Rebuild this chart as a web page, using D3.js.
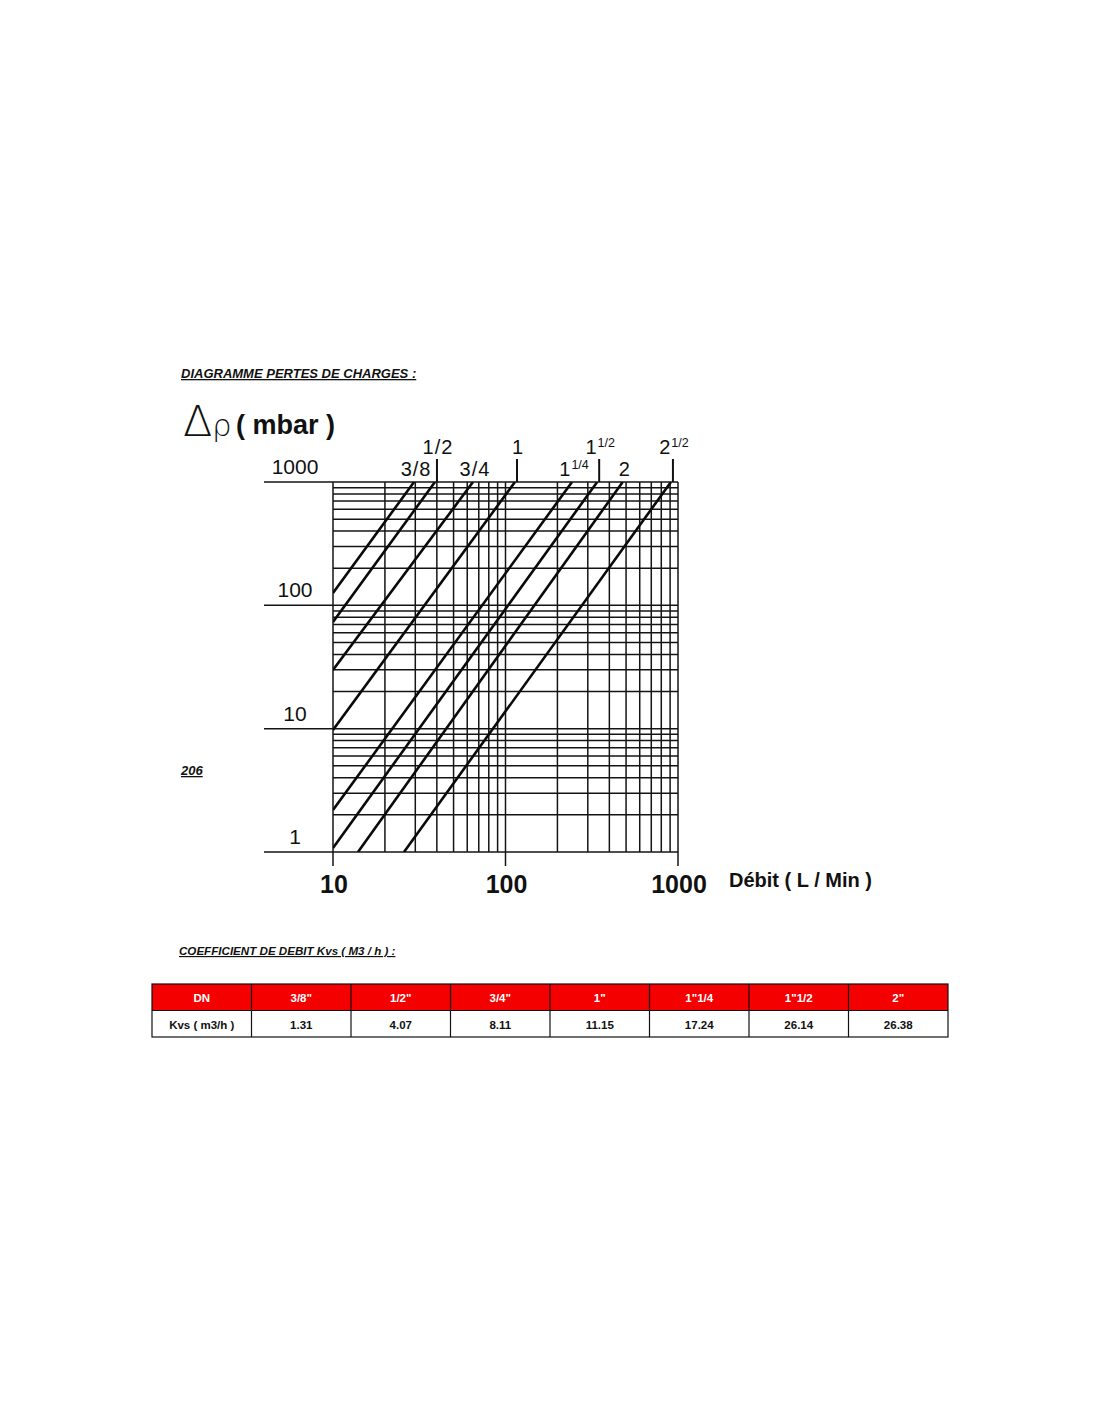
<!DOCTYPE html>
<html>
<head>
<meta charset="utf-8">
<script src="https://cdn.jsdelivr.net/npm/d3@7"></script>
<style>
  html, body { margin: 0; padding: 0; background: #fff; }
  svg { display: block; }
</style>
</head>
<body>
<svg id="chart" width="1100" height="1422"></svg>
<script>
// ---------------- data ----------------
const sizeLabels = ["3/8", "1/2", "3/4", "1", "1 1/4", "1 1/2", "2", "2 1/2"];
// each line is straight on log-log paper: start point and end point
const startFlow = [10, 10, 10, 10, 10, 10, 13.96, 25.8];      // L/min
const startDp   = [126, 73.3, 29.9, 9.76, 2.19, 1.08, 1, 1];   // mbar
const endFlow   = [29.5, 39.0, 64.8, 113.5, 243, 340, 478, 910];
const endDp     = [1000, 1000, 1000, 1000, 1000, 1000, 1000, 1000];

const xMajorTicks = [10, 100, 1000];
const yMajorTicks = [1, 10, 100, 1000];

const tableHeader = ["DN", "3/8\"", "1/2\"", "3/4\"", "1\"", "1\"1/4", "1\"1/2", "2\""];
const tableKvs    = ["Kvs ( m3/h )", "1.31", "4.07", "8.11", "11.15", "17.24", "26.14", "26.38"];

// ---------------- layout ----------------
const FONT = "'Liberation Sans', Arial, Helvetica, sans-serif";
const svg = d3.select("#chart");

const x = d3.scaleLog().domain([10, 1000]).range([333, 678]);
const y = d3.scaleLog().domain([1, 1000]).range([852, 482]);

// titles
function uline(t, xx, yy, size) {
  return svg.append("text").attr("x", xx).attr("y", yy)
    .attr("font-family", FONT).attr("font-size", size)
    .attr("font-weight", "bold").attr("font-style", "italic")
    .attr("text-decoration", "underline").attr("fill", "#111").text(t);
}
uline("DIAGRAMME PERTES DE CHARGES :", 181, 378, 13);
uline("206", 181, 775, 13);
uline("COEFFICIENT DE DEBIT Kvs ( M3 / h ) :", 179, 955, 11.6);

// y axis title
svg.append("text").attr("x", 183).attr("y", 436)
  .attr("font-family", "'DejaVu Sans', sans-serif").attr("font-size", 43)
  .attr("font-weight", 200).attr("fill", "#111").text("Δ");
svg.append("text").attr("x", 212).attr("y", 436)
  .attr("font-family", "'DejaVu Sans', sans-serif").attr("font-size", 31)
  .attr("font-weight", 200).attr("fill", "#111").text("ρ");
svg.append("text").attr("x", 236).attr("y", 434)
  .attr("font-family", FONT).attr("font-size", 27).attr("font-weight", "bold")
  .attr("fill", "#111").text("( mbar )");

// grid
const g = svg.append("g").attr("stroke", "#141414").attr("stroke-width", 1.5);
const xTicks = x.ticks();
const yTicks = y.ticks();

g.selectAll("line.v").data(xTicks).join("line").attr("class", "v")
  .attr("x1", d => x(d)).attr("x2", d => x(d))
  .attr("y1", y(1000))
  .attr("y2", d => xMajorTicks.includes(d) ? y(1) + 14 : y(1));

g.selectAll("line.h").data(yTicks).join("line").attr("class", "h")
  .attr("y1", d => y(d)).attr("y2", d => y(d))
  .attr("x1", d => yMajorTicks.includes(d) ? 264 : x(10))
  .attr("x2", x(1000));

// y labels
svg.selectAll("text.ylab").data(yMajorTicks).join("text").attr("class", "ylab")
  .attr("x", 295).attr("y", d => y(d) - 8)
  .attr("text-anchor", "middle").attr("font-family", FONT)
  .attr("font-size", 21).attr("fill", "#111").text(d => d);

// x labels
svg.selectAll("text.xlab").data(xMajorTicks).join("text").attr("class", "xlab")
  .attr("x", d => x(d) + 1).attr("y", 893)
  .attr("text-anchor", "middle").attr("font-family", FONT)
  .attr("font-size", 25).attr("font-weight", "bold").attr("fill", "#111").text(d => d);

svg.append("text").attr("x", 729).attr("y", 887)
  .attr("font-family", FONT).attr("font-size", 20).attr("font-weight", "bold")
  .attr("fill", "#111").text("Débit ( L / Min )");

// clip
svg.append("clipPath").attr("id", "plotclip").append("rect")
  .attr("x", x(10)).attr("y", y(1000)).attr("width", x(1000) - x(10)).attr("height", y(1) - y(1000));

// curves
const curves = sizeLabels.map((s, i) => ({
  label: s,
  pts: [[startFlow[i], startDp[i]], [endFlow[i], endDp[i]]]
}));
const lineGen = d3.line().x(d => x(d[0])).y(d => y(d[1]));
svg.append("g").attr("clip-path", "url(#plotclip)")
  .selectAll("path").data(curves).join("path")
  .attr("d", d => lineGen(d.pts))
  .attr("fill", "none").attr("stroke", "#0a0a0a").attr("stroke-width", 2.6);

// curve labels
curves.forEach((c, i) => {
  const top = c.pts[1];
  const cx = x(top[0]) + 2;
  const raised = i % 2 === 1;
  if (raised) {
    svg.append("line").attr("x1", cx).attr("x2", cx)
      .attr("y1", 459).attr("y2", y(1000))
      .attr("stroke", "#111").attr("stroke-width", 2);
  }
  const parts = c.label.split(" ");
  const t = svg.append("text").attr("x", raised ? cx + 1 : cx)
    .attr("y", raised ? 454 : 476)
    .attr("text-anchor", "middle").attr("font-family", FONT)
    .attr("font-size", 20).attr("letter-spacing", 1).attr("fill", "#111");
  t.append("tspan").text(parts[0]);
  if (parts[1]) {
    t.append("tspan").attr("font-size", 12.5).attr("dy", -7).attr("letter-spacing", 0).text(parts[1]);
  }
});

// table
const tx0 = 152, tx1 = 948, ty0 = 984, rowH = 26.5;
const colW = (tx1 - tx0) / tableHeader.length;
const tbl = svg.append("g");
tbl.append("rect").attr("x", tx0).attr("y", ty0).attr("width", tx1 - tx0).attr("height", rowH)
  .attr("fill", "#f50000");
tbl.append("rect").attr("x", tx0).attr("y", ty0).attr("width", tx1 - tx0).attr("height", rowH * 2)
  .attr("fill", "none").attr("stroke", "#111").attr("stroke-width", 1.2);
tbl.append("line").attr("x1", tx0).attr("x2", tx1).attr("y1", ty0 + rowH).attr("y2", ty0 + rowH)
  .attr("stroke", "#111").attr("stroke-width", 1.2);
tbl.selectAll("line.col").data(d3.range(1, tableHeader.length)).join("line").attr("class", "col")
  .attr("x1", i => tx0 + i * colW).attr("x2", i => tx0 + i * colW)
  .attr("y1", ty0).attr("y2", ty0 + rowH * 2)
  .attr("stroke", "#111").attr("stroke-width", 1.2);
tbl.selectAll("text.hd").data(tableHeader).join("text").attr("class", "hd")
  .attr("x", (d, i) => tx0 + (i + 0.5) * colW).attr("y", ty0 + 18)
  .attr("text-anchor", "middle").attr("font-family", FONT).attr("font-size", 11.5)
  .attr("font-weight", "bold").attr("fill", "#fff").text(d => d);
tbl.selectAll("text.kv").data(tableKvs).join("text").attr("class", "kv")
  .attr("x", (d, i) => tx0 + (i + 0.5) * colW).attr("y", ty0 + rowH + 18)
  .attr("text-anchor", "middle").attr("font-family", FONT).attr("font-size", 11.5)
  .attr("font-weight", "bold").attr("fill", "#111").text(d => d);
</script>
</body>
</html>
